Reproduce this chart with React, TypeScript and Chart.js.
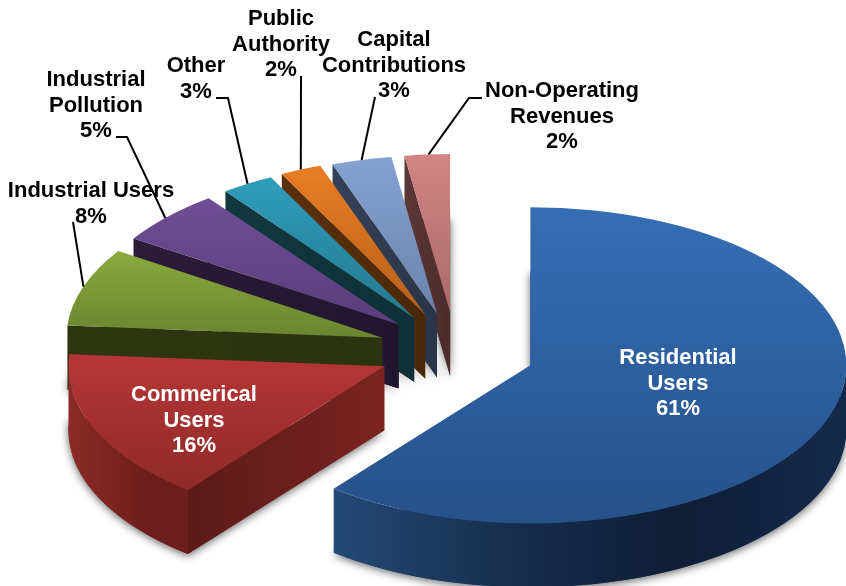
import React, { useEffect, useRef } from "react";
import { Chart, registerables } from "chart.js";

Chart.register(...registerables);

const categories = [
  "Residential Users",
  "Commerical Users",
  "Industrial Users",
  "Industrial Pollution",
  "Other",
  "Public Authority",
  "Capital Contributions",
  "Non-Operating Revenues",
];
const shares = [61, 16, 8, 5, 3, 2, 3, 2];

const labelLines = [
  ["Residential", "Users", "61%"],
  ["Commerical", "Users", "16%"],
  ["Industrial Users", "8%"],
  ["Industrial", "Pollution", "5%"],
  ["Other", "3%"],
  ["Public", "Authority", "2%"],
  ["Capital", "Contributions", "3%"],
  ["Non-Operating", "Revenues", "2%"],
];

const topLight = ["#356eb4", "#ba3636", "#8cac3e", "#704e95", "#2f9ebb", "#e97e24", "#86a2d1", "#d28583"];
const topDark = ["#26518a", "#8f2a2a", "#6a8530", "#5a3d7a", "#24788e", "#b55f1a", "#6b83ab", "#a86a69"];
const rimStops = [
  ["#234a77", "#172e4e", "#0f1e35", "#14294a"],
  ["#8c2b29", "#7c2422", "#6d1e1c", "#6d1e1c"],
  ["#2d3510", "#2d3510", "#2d3510", "#2d3510"],
  ["#2b1c38", "#2b1c38", "#2b1c38", "#2b1c38"],
  ["#12383f", "#12383f", "#12383f", "#12383f"],
  ["#5c2f0c", "#5c2f0c", "#5c2f0c", "#5c2f0c"],
  ["#323f55", "#323f55", "#323f55", "#323f55"],
  ["#5a3535", "#5a3535", "#5a3535", "#5a3535"],
];
const faceLeft = ["#234a77", "#5c1a18", "#2e3611", "#2b1c38", "#12383f", "#5c2f0c", "#344158", "#5c3737"];
const faceRight = ["#234a77", "#7a2422", "#2b3310", "#20152f", "#0f3038", "#4a2808", "#2a3547", "#4a2c2c"];

const PIE_RADIUS = 316;
const SQUASH = 0.5;
const DEPTH = 64;
const EXPLODE = 78;

// the reference's camera bends the slice edges a little: degrees at each [start, end]
const viewBend = [
  [0, -1.1],
  [-1.1, -2.8],
  [-2.8, -2.7],
  [-3.1, -1],
  [-0.7, -1.8],
  [-1.8, -1.4],
  [-1.3, -1.1],
  [-1.1, 0],
];
// and shifts each slice's point by a few pixels
const viewShift = [
  [0, 0],
  [0, 0],
  [-2, 0],
  [-3, 0],
  [-3, -0.5],
  [-3, -1],
  [-3, -0.5],
  [-2, -1],
];

// label centre x, first line centre y, leader elbow points, fraction along the slice's rim
const labelPlace = [
  { x: 678, y: 358, color: "#ffffff" },
  { x: 194, y: 395, color: "#ffffff" },
  { x: 91, y: 191, color: "#000000", leader: [[73, 222]], f: 0.5 },
  { x: 96, y: 80, color: "#000000", leader: [[116, 137], [127, 137]], f: 0.47 },
  { x: 196, y: 66, color: "#000000", leader: [[216, 98], [228, 98]], f: 0.5 },
  { x: 281, y: 19, color: "#000000", leader: [[301, 76]], f: 0.5 },
  { x: 394, y: 40, color: "#000000", leader: [[375, 97]], f: 0.5 },
  { x: 562, y: 91, color: "#000000", leader: [[482, 98], [469, 98]], f: 0.53 },
];

const total = shares.reduce((a, b) => a + b, 0);
const sliceAngles = (i: number) => {
  const before = shares.slice(0, i).reduce((a, b) => a + b, 0);
  return [
    -Math.PI / 2 + (2 * Math.PI * before) / total,
    -Math.PI / 2 + (2 * Math.PI * (before + shares[i])) / total,
  ];
};

const topFill = (c: any) => {
  const i = c.dataIndex ?? 0;
  const area = c.chart.chartArea;
  if (!area) return topLight[i];
  const [a0, a1] = sliceAngles(i);
  const cy = (area.top + area.bottom) / 2 + Math.sin((a0 + a1) / 2) * EXPLODE;
  const ys = [0, Math.sin(a0), Math.sin(a1)];
  if (a0 <= Math.PI / 2 && a1 >= Math.PI / 2) ys.push(1);
  if (a0 <= -Math.PI / 2 && a1 >= -Math.PI / 2) ys.push(-1);
  if (a0 <= (3 * Math.PI) / 2 && a1 >= (3 * Math.PI) / 2) ys.push(-1);
  const g = c.chart.ctx.createLinearGradient(
    0,
    cy + PIE_RADIUS * Math.min(...ys),
    0,
    cy + PIE_RADIUS * Math.max(...ys)
  );
  g.addColorStop(0, topLight[i]);
  g.addColorStop(1, topDark[i]);
  return g;
};

const apexOf = (arc: any, chart: any) => {
  const cy = (chart.chartArea.top + chart.chartArea.bottom) / 2;
  return { x: arc.x, y: cy + (arc.y - cy) * SQUASH };
};

const pie3d = {
  id: "pie3d",
  afterDatasetsUpdate(chart: any) {
    // explode every slice along its middle angle, then apply the camera's small bend
    chart.getDatasetMeta(0).data.forEach((arc: any, i: number) => {
      const mid = (arc.startAngle + arc.endAngle) / 2;
      arc.x += Math.cos(mid) * EXPLODE + viewShift[i][0];
      arc.y += Math.sin(mid) * EXPLODE + viewShift[i][1] / SQUASH;
      arc.startAngle += (viewBend[i][0] * Math.PI) / 180;
      arc.endAngle += (viewBend[i][1] * Math.PI) / 180;
      arc.circumference = arc.endAngle - arc.startAngle;
    });
  },
  beforeDatasetsDraw(chart: any) {
    const ctx = chart.ctx;
    const arcs = chart.getDatasetMeta(0).data;
    const ry = PIE_RADIUS * SQUASH;
    for (let i = arcs.length - 1; i >= 0; i--) {
      const arc = arcs[i];
      const p = apexOf(arc, chart);
      const { startAngle: a0, endAngle: a1 } = arc;

      // floor of the slice, casting the soft shadow
      ctx.save();
      ctx.shadowColor = "rgba(0,0,0,0.6)";
      ctx.shadowBlur = 8;
      ctx.shadowOffsetY = 2;
      ctx.fillStyle = faceRight[i];
      ctx.beginPath();
      ctx.moveTo(p.x, p.y + DEPTH);
      ctx.ellipse(p.x, p.y + DEPTH, PIE_RADIUS, ry, 0, a0, a1);
      ctx.closePath();
      ctx.fill();
      ctx.restore();

      // outer rim, front half only
      const v0 = Math.max(a0, 0);
      const v1 = Math.min(a1, Math.PI);
      if (v1 > v0) {
        const xa = p.x + PIE_RADIUS * Math.cos(v1);
        const xb = p.x + PIE_RADIUS * Math.cos(v0);
        const g = ctx.createLinearGradient(xa, 0, xb, 0);
        rimStops[i].forEach((col, k) => g.addColorStop(k / 3, col));
        ctx.fillStyle = g;
        ctx.beginPath();
        ctx.ellipse(p.x, p.y, PIE_RADIUS, ry, 0, v0, v1);
        ctx.ellipse(p.x, p.y + DEPTH, PIE_RADIUS, ry, 0, v1, v0, true);
        ctx.closePath();
        ctx.fill();
      }

      // cut face along the slice's starting edge
      const ox = p.x + PIE_RADIUS * Math.cos(a0);
      const oy = p.y + ry * Math.sin(a0);
      const g2 = ctx.createLinearGradient(Math.min(ox, p.x), 0, Math.max(ox, p.x) + 1, 0);
      g2.addColorStop(0, faceLeft[i]);
      g2.addColorStop(1, faceRight[i]);
      ctx.fillStyle = g2;
      ctx.beginPath();
      ctx.moveTo(p.x, p.y);
      ctx.lineTo(ox, oy);
      ctx.lineTo(ox, oy + DEPTH);
      ctx.lineTo(p.x, p.y + DEPTH);
      ctx.closePath();
      ctx.fill();
    }
    // the library's arcs become the flattened top faces
    const cy = (chart.chartArea.top + chart.chartArea.bottom) / 2;
    ctx.save();
    ctx.translate(0, cy);
    ctx.scale(1, SQUASH);
    ctx.translate(0, -cy);
  },
  afterDatasetsDraw(chart: any) {
    chart.ctx.restore();
  },
  afterDraw(chart: any) {
    const ctx = chart.ctx;
    const arcs = chart.getDatasetMeta(0).data;
    ctx.save();
    ctx.textAlign = "center";
    ctx.textBaseline = "middle";
    ctx.font = 'bold 22px "Liberation Sans", Arial, sans-serif';
    labelLines.forEach((lines, i) => {
      const place: any = labelPlace[i];
      ctx.fillStyle = place.color;
      lines.forEach((t, k) => ctx.fillText(t, place.x, place.y + k * 25.7));
      if (place.leader) {
        const arc = arcs[i];
        const p = apexOf(arc, chart);
        const a = arc.startAngle + place.f * (arc.endAngle - arc.startAngle);
        ctx.strokeStyle = "#000000";
        ctx.lineWidth = 2;
        ctx.beginPath();
        place.leader.forEach((pt: number[], k: number) =>
          k ? ctx.lineTo(pt[0], pt[1]) : ctx.moveTo(pt[0], pt[1])
        );
        ctx.lineTo(p.x + PIE_RADIUS * Math.cos(a), p.y + PIE_RADIUS * SQUASH * Math.sin(a));
        ctx.stroke();
      }
    });
    ctx.restore();
  },
};

export default function App() {
  const ref = useRef<HTMLCanvasElement>(null);
  useEffect(() => {
    const chart = new Chart(ref.current as HTMLCanvasElement, {
      type: "pie",
      data: {
        labels: categories,
        datasets: [
          {
            data: shares,
            backgroundColor: topFill,
            borderWidth: 0,
            clip: false,
          } as any,
        ],
      },
      options: {
        animation: false,
        responsive: false,
        devicePixelRatio: 1,
        radius: PIE_RADIUS,
        cutout: 0,
        events: [],
        layout: { padding: { left: 68, top: 118, right: 0, bottom: 0 } },
        plugins: { legend: { display: false }, tooltip: { enabled: false } },
      } as any,
      plugins: [pie3d],
    });
    return () => chart.destroy();
  }, []);
  return (
    <canvas
      ref={ref}
      width={846}
      height={586}
      style={{ position: "fixed", left: 0, top: 0, width: 846, height: 586, background: "#fff" }}
    />
  );
}
